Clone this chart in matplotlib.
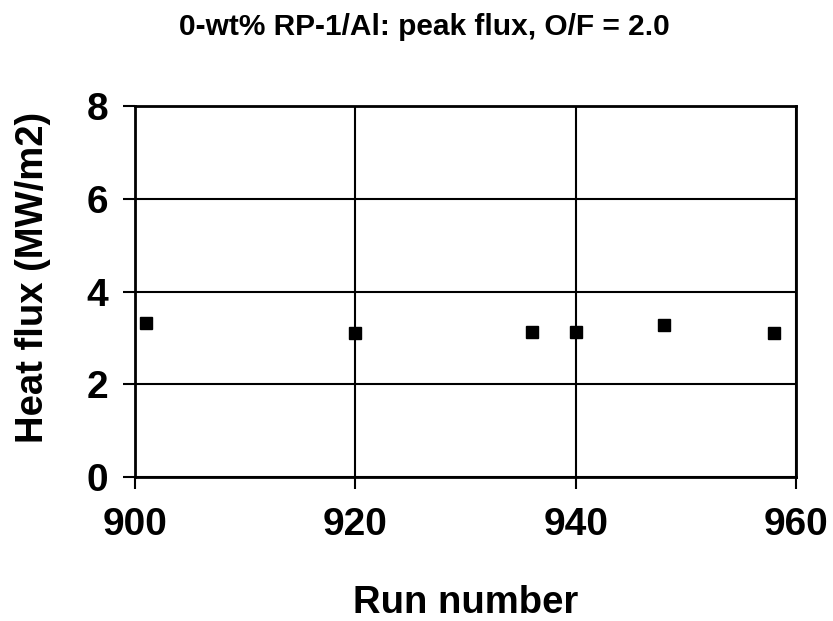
import matplotlib
matplotlib.use("Agg")
import matplotlib.pyplot as plt

plt.rcParams['font.family'] = ['Liberation Sans', 'DejaVu Sans']
plt.rcParams['font.weight'] = 'bold'

run_number = [901, 920, 936, 940, 948, 958]
heat_flux = [3.31, 3.10, 3.13, 3.13, 3.28, 3.10]

W, H = 833, 621
fig = plt.figure(figsize=(W / 100, H / 100), dpi=100)
ax = fig.add_axes([135 / W, 1 - 477 / H, (796 - 135) / W, (477 - 106) / H])

ax.plot(run_number, heat_flux, linestyle='none', marker='s', markersize=8.5,
        color='black', zorder=3, clip_on=False)

ax.set_xlim(900, 960)
ax.set_ylim(0, 8)
ax.set_xticks([900, 920, 940, 960])
ax.set_yticks([0, 2, 4, 6, 8])
ax.grid(True, color='black', linewidth=1.5)
for s in ax.spines.values():
    s.set_linewidth(2)
ax.tick_params(direction='out', length=8.5, width=1.5, labelsize=28)
ax.tick_params(axis='x', pad=13)
ax.tick_params(axis='y', pad=11)

# axis labels and title placed to match the reference
fig.text(466 / W, 1 - 613 / H, "Run number", ha='center', va='baseline',
         fontsize=27.5, fontweight='bold')
fig.text(33 / W, 1 - 277 / H, "Heat flux (MW/m2)", ha='center', va='center',
         rotation=90, fontsize=27.5, fontweight='bold')
fig.text(424 / W, 1 - 35 / H, "0-wt% RP-1/Al: peak flux, O/F = 2.0", ha='center',
         va='baseline', fontsize=21.5, fontweight='bold')

fig.savefig("out.png", dpi=100)
